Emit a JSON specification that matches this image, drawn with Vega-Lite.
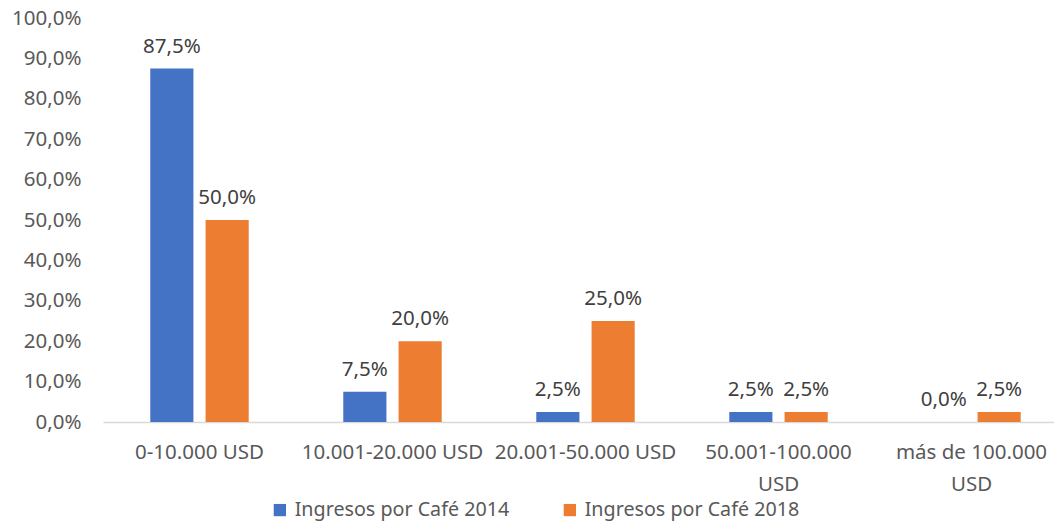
{
  "$schema": "https://vega.github.io/schema/vega-lite/v6.json",
  "autosize": {"type": "none"},
  "width": 951,
  "height": 404,
  "padding": {"left": 103, "top": 18, "right": 0, "bottom": 99},
  "config": {
    "locale": {"number": {"decimal": ",", "thousands": ".", "grouping": [3], "currency": ["", " USD"]}},
    "view": {"stroke": null},
    "font": "Noto Sans"
  },
  "data": {
    "values": [
      {"rango": "0-10.000 USD", "serie": "Ingresos por Café 2014", "valor": 0.875},
      {"rango": "0-10.000 USD", "serie": "Ingresos por Café 2018", "valor": 0.50},
      {"rango": "10.001-20.000 USD", "serie": "Ingresos por Café 2014", "valor": 0.075},
      {"rango": "10.001-20.000 USD", "serie": "Ingresos por Café 2018", "valor": 0.20},
      {"rango": "20.001-50.000 USD", "serie": "Ingresos por Café 2014", "valor": 0.025},
      {"rango": "20.001-50.000 USD", "serie": "Ingresos por Café 2018", "valor": 0.25},
      {"rango": "50.001-100.000 USD", "serie": "Ingresos por Café 2014", "valor": 0.025},
      {"rango": "50.001-100.000 USD", "serie": "Ingresos por Café 2018", "valor": 0.025},
      {"rango": "más de 100.000 USD", "serie": "Ingresos por Café 2014", "valor": 0.0},
      {"rango": "más de 100.000 USD", "serie": "Ingresos por Café 2018", "valor": 0.025}
    ]
  },
  "encoding": {
    "x": {
      "field": "rango", "type": "nominal", "sort": null,
      "scale": {"range": [0, 965], "paddingInner": 0.49, "paddingOuter": 0.245},
      "axis": {
        "title": null, "labelAngle": 0, "ticks": false, "domainColor": "#d9d9d9", "domainWidth": 1.5,
        "labelFontSize": 20.5, "labelColor": "#595959", "labelPadding": 20, "labelLineHeight": 32, "labelLimit": 0,
        "labelExpr": "length(datum.label) > 17 ? [slice(datum.label, 0, lastindexof(datum.label, ' ')), 'USD'] : datum.label"
      }
    },
    "xOffset": {"field": "serie", "type": "nominal", "scale": {"paddingInner": 0.22, "paddingOuter": 0}},
    "y": {
      "field": "valor", "type": "quantitative",
      "scale": {"domain": [0, 1]},
      "axis": {
        "title": null, "format": ".1%", "values": [0,0.1,0.2,0.3,0.4,0.5,0.6,0.7,0.8,0.9,1.0],
        "domain": false, "ticks": false, "grid": false, "labelOverlap": false,
        "labelFontSize": 20.5, "labelColor": "#595959", "labelPadding": 22
      }
    }
  },
  "layer": [
    {
      "mark": {"type": "bar"},
      "encoding": {
        "color": {
          "field": "serie", "type": "nominal",
          "scale": {"range": ["#4472C4", "#ED7D31"]},
          "legend": {
            "title": null, "orient": "none", "direction": "horizontal",
            "legendX": 167, "legendY": 482,
            "symbolType": "square", "symbolSize": 150, "symbolStrokeWidth": 0,
            "labelFontSize": 19.7, "labelColor": "#595959", "columnPadding": 50, "labelOffset": 5, "labelLimit": 0
          }
        }
      }
    },
    {
      "mark": {"type": "text", "baseline": "bottom", "dy": -12, "fontSize": 20.5, "color": "#404040"},
      "encoding": {
        "text": {"field": "valor", "type": "quantitative", "format": ".1%"}
      }
    }
  ]
}
